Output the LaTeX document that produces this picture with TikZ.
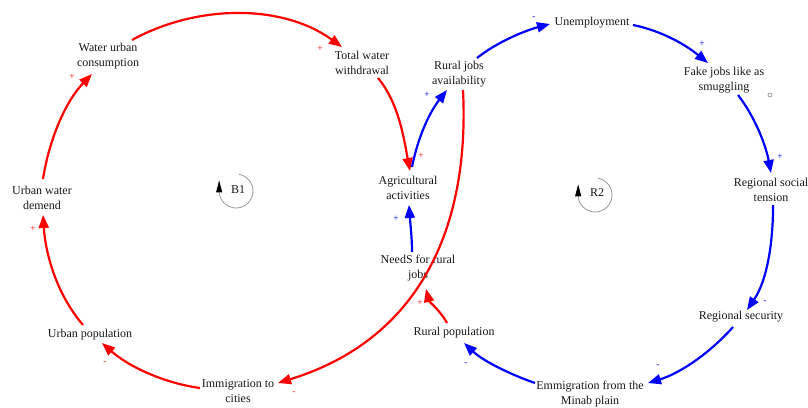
\documentclass[tikz,border=0pt]{standalone}
\usepackage{fontspec}
\setmainfont{Liberation Serif}
\usetikzlibrary{arrows.meta,calc}
\begin{document}
\begin{tikzpicture}[x=1pt,y=-1pt,
  lbl/.style={font=\fontsize{12}{15.5}\selectfont, align=center, inner sep=0pt, text=black!90},
  rarr/.style={draw=red, line width=2.2pt, -{Triangle[length=13pt,width=10pt]}},
  barr/.style={draw=blue, line width=2.2pt, -{Triangle[length=13pt,width=10pt]}},
  rsign/.style={text=red, font=\fontsize{9.5}{9.5}\selectfont, inner sep=0pt},
  bsign/.style={text=blue, font=\fontsize{9.5}{9.5}\selectfont, inner sep=0pt},
  loopc/.style={draw=black!40, line width=0.8pt, -{Triangle[length=12pt,width=6pt,black]}}
]
\useasboundingbox (0,0) rectangle (808,407);
\fill[white] (0,0) rectangle (808,407);

% nodes
\node[lbl] (wuc) at (108,56) {Water urban\\consumption};
\node[lbl] (tww) at (362,63) {Total water\\withdrawal};
\node[lbl] (uwd) at (42,198) {Urban water\\demend};
\node[lbl] (agri) at (408,188) {Agricultural\\activities};
\node[lbl] (rja) at (459,74) {Rural jobs\\availability};
\node[lbl] (unemp) at (592,23) {Unemployment};
\node[lbl] (fake) at (724,80) {Fake jobs like as\\smuggling};
\node[lbl] (rst) at (771,190) {Regional social\\tension};
\node[lbl] (rsec) at (741,317) {Regional security};
\node[lbl] (emm) at (590,394) {Emmigration from the\\Minab plain};
\node[lbl] (rpop) at (454,333) {Rural population};
\node[lbl] (needs) at (418,268) {NeedS for rural\\jobs};
\node[lbl] (upop) at (90,335) {Urban population};
\node[lbl] (imm) at (238,391) {Immigration to\\cities};

% red links
\draw[rarr] ($(uwd)+(1,-19)$) .. controls +(5.9,-38.3) and +(-27,27.9) .. ($(wuc)+(-16,18)$);
\draw[rarr] ($(wuc)+(24,-16)$) .. controls +(64.8,-35.7) and +(-59.9,-43.4) .. ($(tww)+(-20,-16)$);
\draw[rarr] ($(tww)+(16,15)$) .. controls +(20.8,25) and +(-6,-32) .. ($(agri)+(2,-17)$);
\draw[rarr] ($(upop)+(-7,-10)$) .. controls +(-26,-30.4) and +(2.6,39.9) .. ($(uwd)+(1,17)$);
\draw[rarr] ($(imm)+(-38,-3)$) .. controls +(-36,-5) and +(27.3,24) .. ($(upop)+(12,8)$);
\draw[rarr] ($(rja)+(4,16)$) .. controls +(7,140) and +(140,-43) .. ($(imm)+(40,-8)$);
\draw[rarr] ($(rpop)+(-7,-10)$) .. controls +(-5,-10) and +(3,12) .. ($(needs)+(8,21)$);

% blue links
\draw[barr] ($(agri)+(4,-21)$) .. controls +(5.8,-28.9) and +(-18.2,23.2) .. ($(rja)+(-12,16)$);
\draw[barr] ($(rja)+(18,-16)$) .. controls +(20.2,-16.1) and +(-24.9,6.6) .. ($(unemp)+(-42,1)$);
\draw[barr] ($(unemp)+(41,2)$) .. controls +(28.8,5.9) and +(-22.8,-18.5) .. ($(fake)+(-16,-17)$);
\draw[barr] ($(fake)+(14,15)$) .. controls +(17.2,22.3) and +(-5.2,-27.7) .. ($(rst)+(0,-17)$);
\draw[barr] ($(rst)+(2,15)$) .. controls +(0.2,36.3) and +(20.4,-30.1) .. ($(rsec)+(6,-7)$);
\draw[barr] ($(rsec)+(-8,10)$) .. controls +(-22.6,25.5) and +(32.6,-9.9) .. ($(emm)+(58,-11)$);
\draw[barr] ($(emm)+(-55,-11)$) .. controls +(-24.9,-8.6) and +(19.2,18) .. ($(rpop)+(10,10)$);
\draw[barr] ($(needs)+(-6,-16)$) .. controls +(0,-15) and +(1,15) .. ($(agri)+(1,17)$);

% polarity signs
\node[rsign] (s1) at (72,77) {+};
\node[rsign] (s2) at (320,49) {+};
\node[rsign] (s3) at (421,156) {+};
\node[rsign] (s4) at (33,229) {+};
\node[rsign] (s5) at (105,363) {-};
\node[rsign] (s6) at (294,393) {-};
\node[rsign] (s7) at (420,303) {+};
\node[bsign] (t1) at (427,95) {+};
\node[bsign] (t2) at (534,18) {-};
\node[bsign] (t3) at (702,44) {+};
\node[bsign] (t4) at (780,157) {+};
\node[bsign] (t5) at (765,302) {-};
\node[bsign] (t6) at (658,366) {-};
\node[bsign] (t7) at (466,364) {-};
\node[bsign] (t8) at (396,219) {+};

% small marker
\node[draw=black!50, circle, minimum size=4pt, inner sep=0pt, line width=0.6pt] (dot) at (770,95) {};

% loop symbols
\coordinate (b1c) at (236,191);
\node[lbl] (b1) at (238,190) {B1};
\draw[loopc] ($(b1c)+(2.95,-16.74)$) arc[start angle=-80, end angle=172, radius=17] -- ++(0,-13);
\coordinate (r2c) at (595,195);
\node[lbl] (r2) at (597,193) {R2};
\draw[loopc] ($(r2c)+(2.95,-16.74)$) arc[start angle=-80, end angle=172, radius=17] -- ++(0,-13);
\end{tikzpicture}
\end{document}
